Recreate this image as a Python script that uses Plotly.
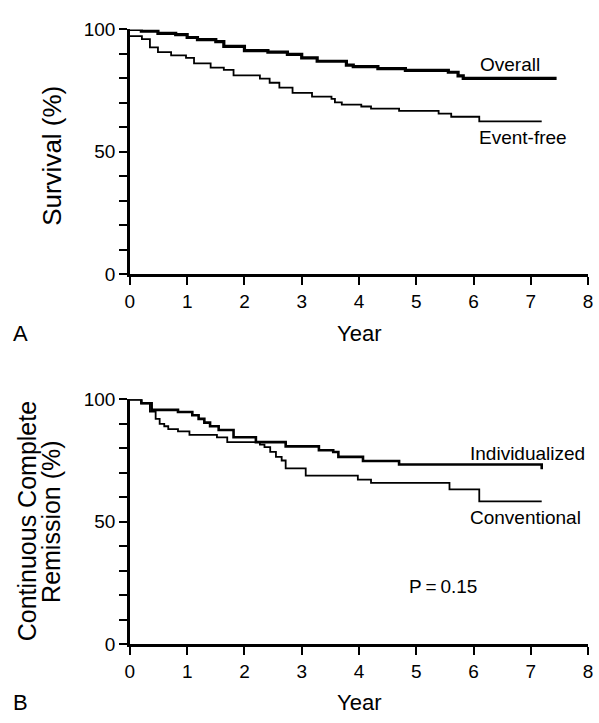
import plotly.graph_objects as go

# ---- Data ----
overall_t = [0, 0.2, 0.49, 0.8, 1.0, 1.18, 1.5, 1.64, 2.0, 2.41, 2.75, 3.0, 3.27, 3.78, 3.9, 4.33, 4.81, 5.56, 5.73, 5.82, 7.45]
overall_s = [100, 99.3, 98.4, 97.9, 96.7, 95.8, 95.0, 93.1, 91.3, 90.7, 89.8, 88.4, 87.0, 85.4, 84.8, 84.0, 83.3, 82.5, 81.0, 80.0, 80.0]

eventfree_t = [0, 0.21, 0.35, 0.49, 0.72, 0.98, 1.12, 1.41, 1.64, 1.81, 2.27, 2.44, 2.61, 2.84, 3.18, 3.52, 3.58, 3.70, 4.04, 4.21, 4.70, 5.39, 5.61, 6.10, 7.19]
eventfree_s = [97.3, 96.0, 92.7, 90.7, 89.4, 88.4, 86.1, 84.4, 83.5, 81.2, 79.9, 78.2, 76.2, 74.1, 72.5, 71.6, 70.2, 69.3, 68.5, 67.6, 66.7, 65.6, 64.3, 62.4, 62.4]

indiv_t = [0, 0.2, 0.38, 0.84, 1.09, 1.2, 1.3, 1.4, 1.55, 1.81, 2.2, 2.72, 3.3, 3.55, 3.64, 4.07, 4.70, 7.19]
indiv_s = [100, 98.4, 95.7, 94.8, 93.5, 92.0, 90.5, 89.0, 87.5, 84.5, 82.5, 80.8, 79.2, 78.5, 76.5, 74.8, 73.4, 71.4]

conv_t = [0, 0.2, 0.35, 0.45, 0.52, 0.6, 0.67, 0.84, 1.04, 1.52, 1.70, 2.27, 2.35, 2.45, 2.55, 2.65, 2.72, 3.07, 3.98, 4.21, 5.58, 6.10, 7.19]
conv_s = [100, 98.4, 95.0, 92.0, 90.0, 89.0, 87.8, 86.9, 85.5, 84.5, 82.5, 81.5, 80.5, 78.5, 76.5, 75.0, 71.8, 68.8, 67.2, 65.9, 63.2, 58.3, 58.3]

x_ticks = [0, 1, 2, 3, 4, 5, 6, 7, 8]
y_ticks = [0, 10, 20, 30, 40, 50, 60, 70, 80, 90, 100]
y_ticktext = ["0", "", "", "", "", "50", "", "", "", "", "100"]

W, H = 599, 723
FONT = "Liberation Sans, Arial, sans-serif"

def px(x):
    return x / W

def py(y):
    return 1 - y / H

fig = go.Figure()
fig.add_trace(go.Scatter(x=overall_t, y=overall_s, mode="lines", line=dict(shape="hv", color="black", width=3.2), xaxis="x", yaxis="y", showlegend=False))
fig.add_trace(go.Scatter(x=eventfree_t, y=eventfree_s, mode="lines", line=dict(shape="hv", color="black", width=1.8), xaxis="x", yaxis="y", showlegend=False))
fig.add_trace(go.Scatter(x=indiv_t, y=indiv_s, mode="lines", line=dict(shape="hv", color="black", width=2.6), xaxis="x2", yaxis="y2", showlegend=False))
fig.add_trace(go.Scatter(x=conv_t, y=conv_s, mode="lines", line=dict(shape="hv", color="black", width=1.8), xaxis="x2", yaxis="y2", showlegend=False))

xdom = [127 / W, 593 / W]
axis_common = dict(showline=True, linecolor="black", linewidth=2.5, ticks="outside", ticklen=8, tickwidth=2,
                   tickcolor="black", showgrid=False, zeroline=False, tickfont=dict(family=FONT, size=19, color="black"))

fig.update_layout(
    width=W, height=H, margin=dict(l=0, r=0, t=0, b=0),
    plot_bgcolor="white", paper_bgcolor="white",
    xaxis=dict(domain=xdom, range=[0, 8], tickvals=x_ticks, anchor="y", **axis_common),
    yaxis=dict(domain=[py(272), py(20)], range=[0, 100], tickvals=y_ticks, ticktext=y_ticktext, anchor="x", **axis_common),
    xaxis2=dict(domain=xdom, range=[0, 8], tickvals=x_ticks, anchor="y2", **axis_common),
    yaxis2=dict(domain=[py(653), py(401)], range=[0, 100], tickvals=y_ticks, ticktext=y_ticktext, anchor="x2", **axis_common),
)

def pann(text, x, y, size, angle=0):
    fig.add_annotation(text=text, x=px(x), y=py(y), xref="paper", yref="paper", showarrow=False,
                       textangle=angle, font=dict(family=FONT, size=size, color="black"), xanchor="center", yanchor="middle")

def dann(text, x, y, xr, yr, size=19):
    fig.add_annotation(text=text, x=x, y=y, xref=xr, yref=yr, showarrow=False,
                       font=dict(family=FONT, size=size, color="black"), xanchor="center", yanchor="middle")

pann("Year", 360, 333, 22)
pann("A", 16, 333, 22)
pann("Year", 360, 713, 22)
pann("B", 16, 713, 22)
pann("Survival (%)", 47, 150, 26, -90)
pann("Continuous Complete", 22, 527, 25, -90)
pann("Remission (%)", 46, 527, 25, -90)

dann("Overall", 6.64, 85.7, "x", "y")
dann("Event-free", 6.87, 55.7, "x", "y")
dann("Individualized", 6.94, 77.8, "x2", "y2")
dann("Conventional", 6.91, 51.9, "x2", "y2")
dann("P\u2009=\u20090.15", 5.46, 23.5, "x2", "y2")

fig.write_html("out.html")
